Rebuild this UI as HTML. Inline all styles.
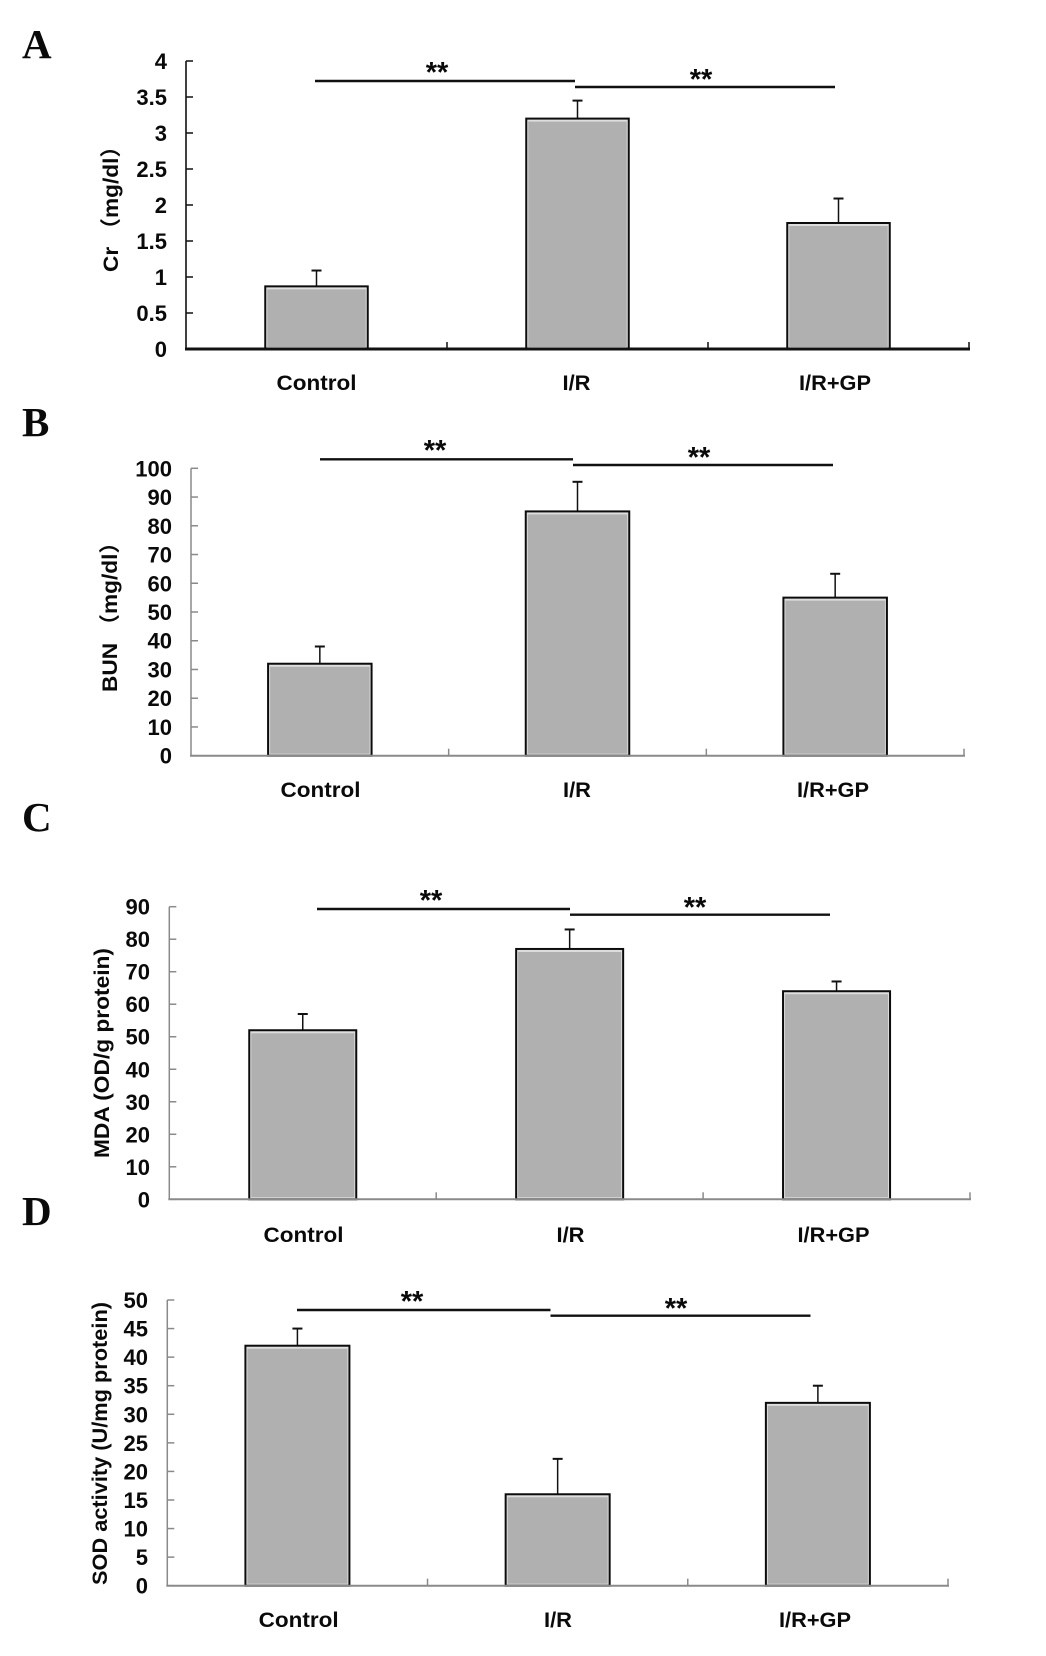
<!DOCTYPE html>
<html lang="en">
<head>
<meta charset="utf-8">
<title>Renal function and oxidative stress bar charts</title>
<style>
html,body{margin:0;padding:0;background:#fff;}
#figure{display:block;width:1046px;height:1656px;filter:blur(0.35px);}
text{font-family:"Liberation Sans","Noto Sans CJK SC",sans-serif;font-weight:bold;fill:#0a0a0a;}
.panel-letter{font-family:"Liberation Serif",serif;font-size:41px;}
</style>
</head>
<body>
<svg id="figure" xmlns="http://www.w3.org/2000/svg" width="1046" height="1656" viewBox="0 0 1046 1656"></svg>
<script>
const categories = ['Control', 'I/R', 'I/R+GP'];

const crTicks = ['0', '0.5', '1', '1.5', '2', '2.5', '3', '3.5', '4'];
const crValues = [0.87, 3.2, 1.75];
const crErrorTops = [1.09, 3.45, 2.09];

const bunTicks = ['0', '10', '20', '30', '40', '50', '60', '70', '80', '90', '100'];
const bunValues = [32, 85, 55];
const bunErrorTops = [38, 95.3, 63.3];

const mdaTicks = ['0', '10', '20', '30', '40', '50', '60', '70', '80', '90'];
const mdaValues = [52, 77, 64];
const mdaErrorTops = [57, 83, 67];

const sodTicks = ['0', '5', '10', '15', '20', '25', '30', '35', '40', '45', '50'];
const sodValues = [42, 16, 32];
const sodErrorTops = [45, 22.2, 35];

const svg = document.getElementById('figure');
const NS = 'http://www.w3.org/2000/svg';

function make(tag, parent, props) {
  const node = document.createElementNS(NS, tag);
  for (const k in props) node.setAttribute(k, props[k]);
  parent.appendChild(node);
  return node;
}

function drawPanel(p) {
  const group = make('g', svg, {});
  
  

  const tickValues = p.ticks.map(Number);
  const yMax = Math.max.apply(null, tickValues);
  const yScale = v => p.bottom - (v / yMax) * (p.bottom - p.top);
  const catWidth = (p.right - p.left) / categories.length;
  const xCenter = i => p.left + (i + 0.5) * catWidth;

  const letter = make('text', group, {x: p.letterX, y: p.letterY, 'class': 'panel-letter'});
  letter.textContent = p.id;
  
  

  // value axis and ticks
  const yAxis = make('line', group, {x1: p.left, x2: p.left, y1: p.top, y2: p.bottom, stroke: p.axisColor, 'stroke-width': p.yAxisWidth});
  
  

  p.ticks.forEach(t => {
    const y = yScale(Number(t));
    const mark = make('line', group, {x1: p.left, x2: p.left + 7, y1: y, y2: y, stroke: p.axisColor, 'stroke-width': 1.5});
    
    
    const label = make('text', group, {x: p.tickRight, y: y + 8, 'text-anchor': 'end', 'font-size': 22});
    label.textContent = t;
    
    
  });

  const title = make('text', group, {
    transform: 'translate(' + p.titleX + ' ' + p.titleEnd + ') rotate(-90)',
    'font-size': 21,
    textLength: p.titleLen,
    lengthAdjust: 'spacingAndGlyphs'
  });
  title.textContent = p.title;
  
  

  // bars
  categories.forEach((c, i) => {
    const cx = xCenter(i);
    const top = yScale(p.values[i]);
    const errTop = yScale(p.errors[i]);

    const whisker = make('line', group, {x1: cx, x2: cx, y1: errTop, y2: top, stroke: '#111', 'stroke-width': 1.5});
    
    
    const cap = make('line', group, {x1: cx - 5, x2: cx + 5, y1: errTop, y2: errTop, stroke: '#111', 'stroke-width': 2});
    
    

    const bar = make('rect', group, {x: cx - p.barWidth / 2, y: top, width: p.barWidth, height: p.bottom - top, fill: '#dedede', stroke: '#0c0c0c', 'stroke-width': 2});
    
    
    const fill = make('rect', group, {x: cx - p.barWidth / 2 + 2, y: top + 3, width: p.barWidth - 4, height: p.bottom - top - 5, fill: '#b0b0b0'});
    
    

    const catLabel = make('text', group, {x: p.labelX[i], y: p.labelY + 8, 'text-anchor': 'middle', 'font-size': 21.5, textLength: c === 'Control' ? 80 : (c === 'I/R' ? 28 : 72), lengthAdjust: 'spacingAndGlyphs'});
    catLabel.textContent = c;
    
    
  });

  // category axis and ticks
  const xAxis = make('line', group, {x1: p.left - 1, x2: p.right + 1, y1: p.bottom, y2: p.bottom, stroke: p.axisColor, 'stroke-width': p.xAxisWidth});
  
  
  categories.forEach((c, i) => {
    const x = p.left + (i + 1) * catWidth;
    const mark = make('line', group, {x1: x, x2: x, y1: p.bottom, y2: p.bottom - 7, stroke: p.axisColor, 'stroke-width': 1.5});
    
    
  });

  // significance brackets
  p.sig.forEach(s => {
    const line = make('line', group, {x1: s.from, x2: s.to, y1: s.y, y2: s.y, stroke: '#111', 'stroke-width': 2.4});
    
    
    const stars = make('text', group, {x: s.starX, y: s.starY + 14, 'text-anchor': 'middle', 'font-size': 29});
    stars.textContent = '**';
    
    
  });
}

drawPanel({
  id: 'A', letterX: 22, letterY: 58,
  left: 186, right: 969, top: 61, bottom: 349,
  ticks: crTicks, values: crValues, errors: crErrorTops,
  barWidth: 102.5, tickRight: 167, axisColor: '#111', yAxisWidth: 1.6, xAxisWidth: 3,
  title: 'Cr \uFF08mg/dl\uFF09', titleX: 118, titleEnd: 272, titleLen: 137,
  labelX: [316.5, 576.5, 835], labelY: 382,
  sig: [
    {from: 315, to: 575, y: 81, starX: 437, starY: 68},
    {from: 575, to: 835, y: 87, starX: 701, starY: 75}
  ]
});

drawPanel({
  id: 'B', letterX: 22, letterY: 436,
  left: 191, right: 964, top: 468.3, bottom: 755.7,
  ticks: bunTicks, values: bunValues, errors: bunErrorTops,
  barWidth: 103.5, tickRight: 172, axisColor: '#8a8a8a', yAxisWidth: 1.5, xAxisWidth: 2,
  title: 'BUN \uFF08mg/dl\uFF09', titleX: 117, titleEnd: 692, titleLen: 161,
  labelX: [320.5, 577, 833], labelY: 789,
  sig: [
    {from: 320, to: 573, y: 459.3, starX: 435, starY: 446},
    {from: 573, to: 833, y: 465, starX: 699, starY: 453}
  ]
});

drawPanel({
  id: 'C', letterX: 22, letterY: 831,
  left: 169.3, right: 970, top: 906.7, bottom: 1199.3,
  ticks: mdaTicks, values: mdaValues, errors: mdaErrorTops,
  barWidth: 107, tickRight: 150, axisColor: '#8a8a8a', yAxisWidth: 1.5, xAxisWidth: 2,
  title: 'MDA (OD/g protein)', titleX: 109, titleEnd: 1158, titleLen: 210,
  labelX: [303.5, 570.5, 833.5], labelY: 1234,
  sig: [
    {from: 317, to: 570, y: 909, starX: 431, starY: 896},
    {from: 570, to: 830, y: 914.7, starX: 695, starY: 903}
  ]
});

drawPanel({
  id: 'D', letterX: 22, letterY: 1225,
  left: 167.3, right: 948, top: 1300, bottom: 1585.7,
  ticks: sodTicks, values: sodValues, errors: sodErrorTops,
  barWidth: 104, tickRight: 148, axisColor: '#8a8a8a', yAxisWidth: 1.5, xAxisWidth: 2,
  title: 'SOD activity (U/mg protein)', titleX: 107, titleEnd: 1585, titleLen: 283,
  labelX: [298.7, 558, 815], labelY: 1619,
  sig: [
    {from: 297, to: 550.5, y: 1310, starX: 412, starY: 1297},
    {from: 550.5, to: 810.5, y: 1315.7, starX: 676, starY: 1304}
  ]
});
</script>
</body>
</html>
